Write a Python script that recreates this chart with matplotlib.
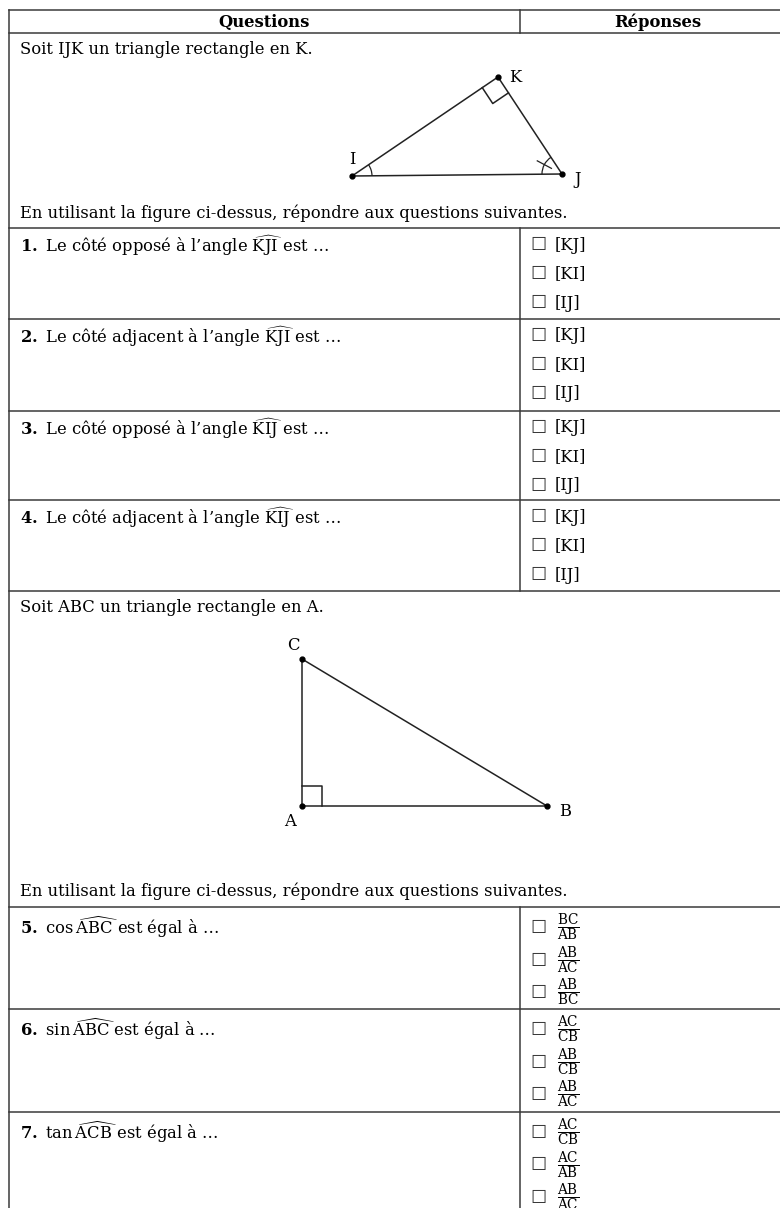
import numpy as np
import matplotlib
matplotlib.use("Agg")
import matplotlib.pyplot as plt
from matplotlib.patches import Arc

plt.rcParams['font.family'] = ['DejaVu Serif', 'DejaVu Sans']
plt.rcParams['mathtext.fontset'] = 'dejavuserif'

# ---------------- data ----------------
headers = ["Questions", "Réponses"]
intro_ijk = "Soit IJK un triangle rectangle en K."
intro_abc = "Soit ABC un triangle rectangle en A."
instruction = "En utilisant la figure ci-dessus, répondre aux questions suivantes."

questions_ijk = [
    r"$\mathbf{1.}$ Le côté opposé à l’angle $\widehat{\mathrm{KJI}}$ est …",
    r"$\mathbf{2.}$ Le côté adjacent à l’angle $\widehat{\mathrm{KJI}}$ est …",
    r"$\mathbf{3.}$ Le côté opposé à l’angle $\widehat{\mathrm{KIJ}}$ est …",
    r"$\mathbf{4.}$ Le côté adjacent à l’angle $\widehat{\mathrm{KIJ}}$ est …",
]
options_ijk = [["[KJ]", "[KI]", "[IJ]"]] * 4

questions_abc = [
    r"$\mathbf{5.}$ $\cos\widehat{\mathrm{ABC}}$ est égal à …",
    r"$\mathbf{6.}$ $\sin\widehat{\mathrm{ABC}}$ est égal à …",
    r"$\mathbf{7.}$ $\tan\widehat{\mathrm{ACB}}$ est égal à …",
]
options_abc = [
    [("BC", "AB"), ("AB", "AC"), ("AB", "BC")],
    [("AC", "CB"), ("AB", "CB"), ("AB", "AC")],
    [("AC", "CB"), ("AC", "AB"), ("AB", "AC")],
]

# figure vertices (drawing coordinates)
ijk_names = ["I", "J", "K"]
ijk_x = [352, 562, 498]
ijk_y = [176, 174, 77]
abc_names = ["A", "B", "C"]
abc_x = [302, 547, 302]
abc_y = [806, 806, 659]

# ---------------- layout ----------------
W, H = 780, 1208
fig = plt.figure(figsize=(W / 100, H / 100), dpi=100)
ax = fig.add_axes([0, 0, 1, 1])
ax.set_xlim(0, W)
ax.set_ylim(H, 0)
ax.axis("off")

LC = "#3a3a3a"
LW = 1.1
FS = 11.8
x_left, x_mid, x_right = 9, 520, 795
y_top, y_head = 10, 33
row_h1 = [228, 319, 411, 500, 591]
row_h2 = [907, 1009, 1112, 1230]

def hline(y):
    ax.plot([x_left, x_right], [y, y], color=LC, lw=LW)

def vline(x, y0, y1):
    ax.plot([x, x], [y0, y1], color=LC, lw=LW)

# borders
vline(x_left, y_top, H + 5)
hline(y_top)
hline(y_head)
vline(x_mid, y_top, y_head)
for y in row_h1:
    hline(y)
vline(x_mid, row_h1[0], row_h1[-1])
for y in row_h2[:-1]:
    hline(y)
vline(x_mid, row_h2[0], row_h2[-1])

# headers
ax.text((x_left + x_mid) / 2, 22, headers[0], ha="center", va="center",
        fontsize=FS, fontweight="bold")
ax.text((x_mid + x_right) / 2, 22, headers[1], ha="center", va="center",
        fontsize=FS, fontweight="bold")

# section texts
ax.text(20, 50, intro_ijk, ha="left", va="center", fontsize=FS)
ax.text(20, 213, instruction, ha="left", va="center", fontsize=FS)
ax.text(20, 607, intro_abc, ha="left", va="center", fontsize=FS)
ax.text(20, 891, instruction, ha="left", va="center", fontsize=FS)

# question rows IJK
for i, q in enumerate(questions_ijk):
    top = row_h1[i]
    ax.text(20, top + 18, q, ha="left", va="center", fontsize=FS)
    for j, opt in enumerate(options_ijk[i]):
        y = top + 17 + 29 * j
        ax.text(538, y, "☐", ha="center", va="center", fontsize=13,
                family=["DejaVu Sans"], color="#333")
        ax.text(555, y, opt, ha="left", va="center", fontsize=FS)

# question rows ABC
for i, q in enumerate(questions_abc):
    top = row_h2[i]
    ax.text(20, top + 20, q, ha="left", va="center", fontsize=FS)
    for j, (num, den) in enumerate(options_abc[i]):
        y = top + 21 + 32.5 * j
        ax.text(538, y, "☐", ha="center", va="center", fontsize=13,
                family=["DejaVu Sans"], color="#333")
        ax.text(568, y, r"$\frac{\mathrm{%s}}{\mathrm{%s}}$" % (num, den),
                ha="center", va="center", fontsize=14)

# ---------------- triangle IJK ----------------
TC = "#222"
ax.plot([ijk_x[0], ijk_x[1], ijk_x[2], ijk_x[0]],
        [ijk_y[0], ijk_y[1], ijk_y[2], ijk_y[0]], color=TC, lw=1.1)
ax.plot(ijk_x, ijk_y, "o", color="black", ms=3.5)
P = {n: np.array([x, y], float) for n, x, y in zip(ijk_names, ijk_x, ijk_y)}

def unit(a, b):
    d = b - a
    return d / np.hypot(*d)

def ang(a, b):
    d = b - a
    return np.degrees(np.arctan2(d[1], d[0]))

# right angle at K
s = 19
u, v = unit(P["K"], P["I"]), unit(P["K"], P["J"])
sq = np.array([P["K"] + s * u, P["K"] + s * u + s * v, P["K"] + s * v])
ax.plot(sq[:, 0], sq[:, 1], color=TC, lw=1.1)

# angle arcs
r = 20
a1, a2 = sorted([ang(P["I"], P["K"]), ang(P["I"], P["J"])])
ax.add_patch(Arc(P["I"], 2 * r, 2 * r, theta1=a1, theta2=a2, color=TC, lw=0.9))
b1 = ang(P["J"], P["I"])
b2 = ang(P["J"], P["K"]) % 360
ax.add_patch(Arc(P["J"], 2 * r, 2 * r, theta1=b1, theta2=b2, color=TC, lw=0.9))
mid = np.radians((b1 + b2) / 2)
dvec = np.array([np.cos(mid), np.sin(mid)])
t0, t1 = P["J"] + (r - 8) * dvec, P["J"] + (r + 8) * dvec
ax.plot([t0[0], t1[0]], [t0[1], t1[1]], color=TC, lw=0.9)

ax.text(P["K"][0] + 11, P["K"][1] + 1, "K", ha="left", va="center", fontsize=FS)
ax.text(P["I"][0], P["I"][1] - 17, "I", ha="center", va="center", fontsize=FS)
ax.text(P["J"][0] + 16, P["J"][1] + 6, "J", ha="center", va="center", fontsize=FS)

# ---------------- triangle ABC ----------------
Q = {n: np.array([x, y], float) for n, x, y in zip(abc_names, abc_x, abc_y)}
ax.plot([abc_x[0], abc_x[1], abc_x[2], abc_x[0]],
        [abc_y[0], abc_y[1], abc_y[2], abc_y[0]], color=TC, lw=1.1)
ax.plot(abc_x, abc_y, "o", color="black", ms=3.5)
s2 = 20
u2, v2 = unit(Q["A"], Q["B"]), unit(Q["A"], Q["C"])
sq2 = np.array([Q["A"] + s2 * u2, Q["A"] + s2 * u2 + s2 * v2, Q["A"] + s2 * v2])
ax.plot(sq2[:, 0], sq2[:, 1], color=TC, lw=1.1)
ax.text(Q["C"][0] - 9, Q["C"][1] - 14, "C", ha="center", va="center", fontsize=FS)
ax.text(Q["A"][0] - 12, Q["A"][1] + 16, "A", ha="center", va="center", fontsize=FS)
ax.text(Q["B"][0] + 18, Q["B"][1] + 6, "B", ha="center", va="center", fontsize=FS)

fig.savefig("out.png", dpi=100)
